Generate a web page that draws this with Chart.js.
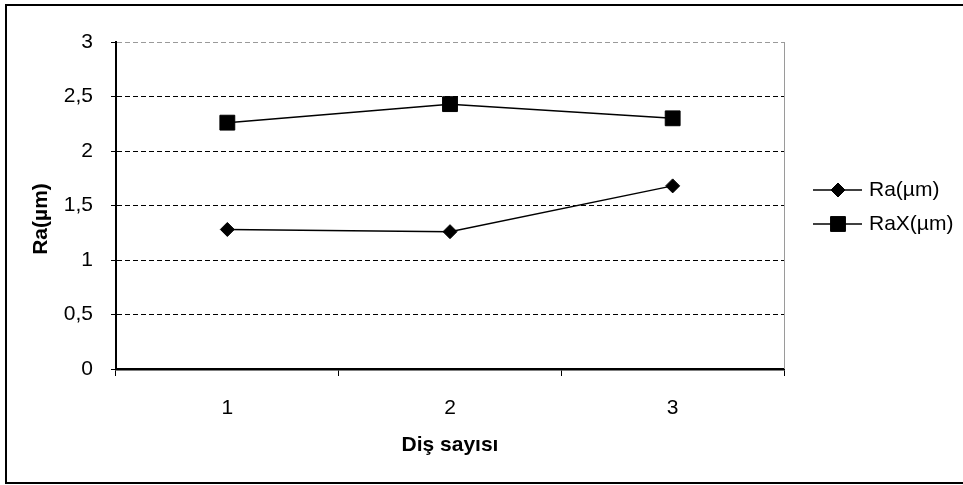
<!DOCTYPE html>
<html>
<head>
<meta charset="utf-8">
<script src="https://cdn.jsdelivr.net/npm/chart.js@4/dist/chart.umd.min.js"></script>
<style>
  html, body { margin: 0; padding: 0; background: #fff; }
  canvas { display: block; }
</style>
</head>
<body>
<canvas id="chart1" width="963" height="485"></canvas>
<script>
// data
const categories = ['1', '2', '3'];
const raValues = [1.28, 1.26, 1.68];
const raxValues = [2.26, 2.43, 2.30];
const seriesNames = ['Ra(\u00b5m)', 'RaX(\u00b5m)'];
const xTitle = 'Di\u015f say\u0131s\u0131';
const yTitle = 'Ra(\u00b5m)';
const yMin = 0;
const yMax = 3;
const yStep = 0.5;

const FONT = '"Liberation Sans", Arial, sans-serif';
const SIZE = 21;

// outer frame, gray right edge of plot area, y title and legend
const decorations = {
  id: 'decorations',
  afterDraw(chart) {
    const ctx = chart.ctx;
    const area = chart.chartArea;
    ctx.save();

    ctx.strokeStyle = '#000';
    ctx.lineWidth = 2;
    ctx.strokeRect(6, 5, 980, 478);

    ctx.strokeStyle = '#9a9a9a';
    ctx.lineWidth = 1;
    ctx.beginPath();
    ctx.moveTo(area.right + 0.5, area.top);
    ctx.lineTo(area.right + 0.5, area.bottom);
    ctx.stroke();

    // y axis title, sits a bit below the plot middle like the original
    ctx.save();
    ctx.translate(41, 219);
    ctx.rotate(-Math.PI / 2);
    ctx.fillStyle = '#000';
    ctx.font = 'bold ' + SIZE + 'px ' + FONT;
    ctx.textAlign = 'center';
    ctx.textBaseline = 'middle';
    ctx.fillText(yTitle, 0, 0);
    ctx.restore();

    // legend
    const rows = [190, 224];
    chart.data.datasets.forEach((ds, i) => {
      const y = rows[i];
      ctx.strokeStyle = '#000';
      ctx.lineWidth = 1.5;
      ctx.beginPath();
      ctx.moveTo(813, y);
      ctx.lineTo(862, y);
      ctx.stroke();
      ctx.fillStyle = '#000';
      ctx.lineWidth = 1;
      Chart.helpers.drawPoint(ctx, {
        pointStyle: ds.pointStyle,
        radius: ds.pointRadius,
        borderWidth: ds.pointBorderWidth,
        rotation: 0
      }, 838, y);
      ctx.fillStyle = '#000';
      ctx.font = SIZE + 'px ' + FONT;
      ctx.textAlign = 'left';
      ctx.textBaseline = 'middle';
      ctx.fillText(ds.label, 869, y);
    });
    ctx.restore();
  }
};

const ctx = document.getElementById('chart1').getContext('2d');
new Chart(ctx, {
  type: 'line',
  data: {
    labels: categories,
    datasets: [{
      label: seriesNames[0],
      data: raValues,
      borderColor: '#000',
      backgroundColor: '#000',
      borderWidth: 1.5,
      pointStyle: 'rectRot',
      pointRadius: 7,
      pointBorderWidth: 1,
      pointBackgroundColor: '#000',
      pointBorderColor: '#000',
      tension: 0
    }, {
      label: seriesNames[1],
      data: raxValues,
      borderColor: '#000',
      backgroundColor: '#000',
      borderWidth: 1.5,
      pointStyle: 'rect',
      pointRadius: 10.5,
      pointBorderWidth: 1,
      pointBackgroundColor: '#000',
      pointBorderColor: '#000',
      tension: 0
    }]
  },
  options: {
    responsive: false,
    animation: false,
    layout: { padding: { top: 42, right: 179, bottom: 0, left: 0 } },
    plugins: {
      legend: { display: false },
      tooltip: { enabled: false }
    },
    scales: {
      x: {
        offset: true,
        afterFit: (scale) => { scale.height = 116; },
        grid: {
          offset: true,
          drawOnChartArea: false,
          drawTicks: true,
          tickLength: 7,
          tickColor: '#000',
          tickWidth: 1
        },
        border: { color: '#000', width: 2.5 },
        ticks: {
          color: '#000',
          padding: 20,
          font: { family: FONT, size: SIZE }
        },
        title: {
          display: true,
          text: xTitle,
          color: '#000',
          padding: { top: 0, bottom: 27 },
          font: { family: FONT, size: SIZE, weight: 'bold' }
        }
      },
      y: {
        min: yMin,
        max: yMax,
        afterFit: (scale) => { scale.width = 116; },
        grid: {
          color: (c) => c.tick && c.tick.value === yMax ? '#9a9a9a' : '#000',
          lineWidth: 1,
          drawTicks: true,
          tickLength: 5,
          tickColor: '#000',
          tickBorderDash: [],
          tickWidth: 1
        },
        border: { color: '#000', width: 2, dash: [5, 3] },
        ticks: {
          stepSize: yStep,
          color: '#000',
          padding: 18,
          font: { family: FONT, size: SIZE },
          callback: (v) => String(v).replace('.', ',')
        }
      }
    }
  },
  plugins: [decorations]
});
</script>
</body>
</html>
